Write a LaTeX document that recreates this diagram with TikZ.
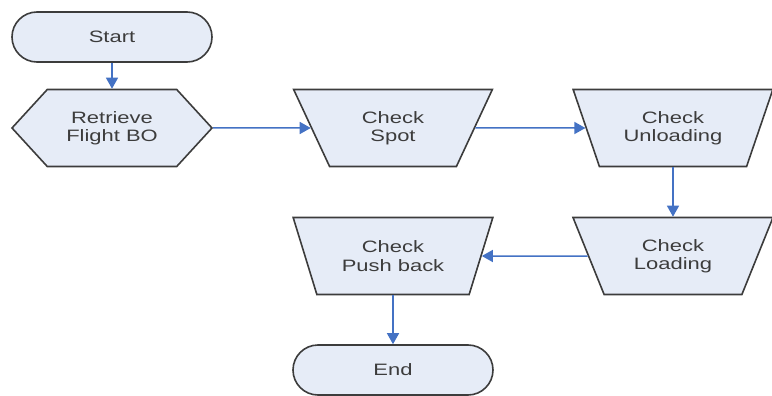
\documentclass[tikz,border=0pt]{standalone}
\usepackage{fontspec}
\newfontfamily\lblfont{Liberation Sans}[FakeStretch=1.33]
\usetikzlibrary{shapes.geometric,shapes.symbols,arrows.meta}
\definecolor{boxfill}{RGB}{230,236,247}
\definecolor{boxline}{RGB}{60,60,60}
\definecolor{flow}{RGB}{68,114,196}
\definecolor{txt}{RGB}{60,60,60}
\tikzset{
  base/.style={draw=boxline, fill=boxfill, line width=1.6pt, text=txt,
    font=\lblfont\fontsize{16.5}{18.5}\selectfont, align=center, inner sep=0pt},
  terminal/.style={base, rectangle, rounded corners=25pt,
    minimum width=200pt, minimum height=50pt},
  prep/.style={base, signal, signal to=west and east, signal pointer angle=95,
    minimum width=200pt, minimum height=77pt},
  manual/.style={base, trapezium, trapezium stretches=true, shape border rotate=180,
    trapezium angle=62.5, minimum width=200pt, minimum height=77pt},
  arr/.style={draw=flow, line width=1.5pt, -{Triangle[length=11pt,width=12pt]}}
}
\begin{document}
\begin{tikzpicture}[x=1pt,y=-1pt]
  \useasboundingbox (0,0) rectangle (772,396);
  % process steps
  \node[terminal] (start) at (112,37)  {Start};
  \node[prep]     (retr)  at (112,128) {Retrieve\\Flight BO};
  \node[manual]   (spot)  at (393,128) {Check\\Spot};
  \node[manual]   (unl)   at (673,128) {Check\\Unloading};
  \node[manual]   (load)  at (673,256) {Check\\Loading};
  \node[manual]   (push)  at (393,256) {Check\\Push back};
  \node[terminal] (end)   at (393,370) {End};
  % flow
  \draw[arr] (start.south) -- (retr.north);
  \draw[arr] (retr.east) -- (spot.180);
  \draw[arr] (spot.0) -- (unl.180);
  \draw[arr] (unl.-90) -- (load.90);
  \draw[arr] (load.180) -- (push.0);
  \draw[arr] (push.-90) -- (end.north);
\end{tikzpicture}
\end{document}
